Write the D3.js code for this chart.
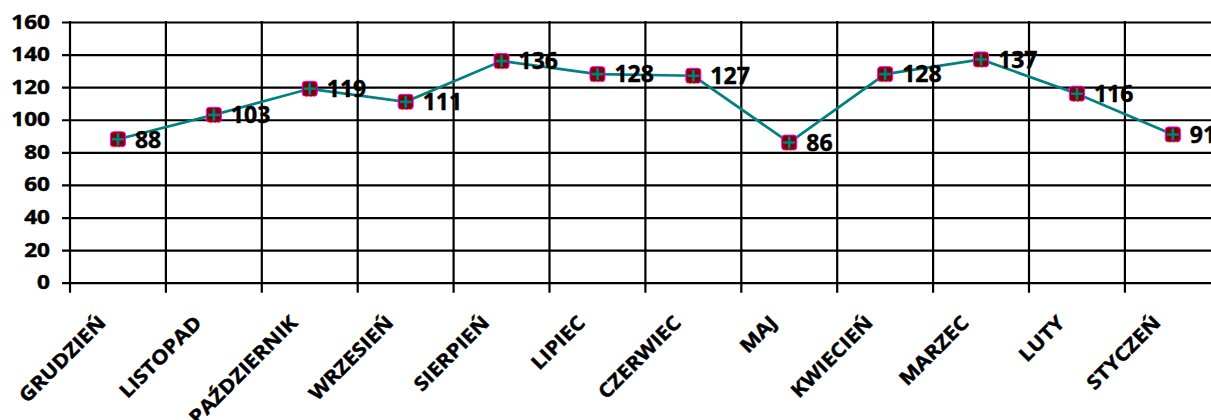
<!DOCTYPE html>
<html>
<head>
<meta charset="utf-8">
<script src="https://cdn.jsdelivr.net/npm/d3@7"></script>
<style>
  body { margin: 0; background: #fff; }
  svg { display: block; }
  text { font-family: "Open Sans", sans-serif; font-weight: bold; fill: #000; stroke: #000; stroke-width: 0.45px; }
</style>
</head>
<body>
<div id="chart"></div>
<script>
var months = ["GRUDZIEŃ", "LISTOPAD", "PAŹDZIERNIK", "WRZESIEŃ", "SIERPIEŃ", "LIPIEC",
              "CZERWIEC", "MAJ", "KWIECIEŃ", "MARZEC", "LUTY", "STYCZEŃ"];
var values = [88, 103, 119, 111, 136, 128, 127, 86, 128, 137, 116, 91];
var yTicks = [0, 20, 40, 60, 80, 100, 120, 140, 160];

var chartWidth = 1211;
var chartHeight = 420;
var plotLeft = 70, plotTop = 22, plotBottom = 282.7;
var band = 95.9;

var svg = d3.select("#chart")
    .append("svg")
    .attr("width", chartWidth)
    .attr("height", chartHeight);

svg.append("rect").attr("width", chartWidth).attr("height", chartHeight).attr("fill", "#fff");

var x = d3.scaleBand()
    .domain(months)
    .range([plotLeft, plotLeft + band * months.length])
    .paddingInner(0)
    .paddingOuter(0);

var y = d3.scaleLinear()
    .domain([0, 160])
    .range([plotBottom, plotTop]);

// horizontal gridlines + y labels
var yAxis = svg.append("g")
    .attr("transform", "translate(62,0)")
    .call(d3.axisLeft(y)
        .tickValues(yTicks)
        .tickSize(-(chartWidth - 62))
        .tickPadding(10)
        .tickFormat(d3.format("d")));
yAxis.select(".domain").remove();
yAxis.selectAll(".tick line")
    .attr("stroke", "#000")
    .attr("stroke-width", 2.2);
yAxis.selectAll(".tick text")
    .attr("font-size", "18.8px")
    .attr("font-family", "'Open Sans', sans-serif")
    .attr("font-weight", "bold")
    .attr("fill", "#000")
    .attr("transform", "scale(1.2,1)");

// vertical gridlines at category boundaries (the first one is the axis)
var bounds = months.map(function(d) { return x(d); });
bounds.push(x.range()[1]);
svg.selectAll(".vgrid")
    .data(bounds)
    .enter()
    .append("line")
    .attr("class", "vgrid")
    .attr("x1", function(d) { return d; })
    .attr("x2", function(d) { return d; })
    .attr("y1", plotTop - 1)
    .attr("y2", plotBottom + 10)
    .attr("stroke", "#000")
    .attr("stroke-width", 2.2);

// category labels
svg.selectAll(".cat")
    .data(months)
    .enter()
    .append("text")
    .attr("class", "cat")
    .attr("text-anchor", "end")
    .attr("font-size", "19.5px")
    .attr("transform", function(d) {
        return "translate(" + (x(d) + band / 2 - 11) + ",324) rotate(-45) scale(1.12,1)";
    })
    .text(function(d) { return d; });

// line
var cx = function(d, i) { return x(months[i]) + band / 2; };
var line = d3.line()
    .x(function(d, i) { return cx(d, i); })
    .y(function(d) { return y(d); });

svg.append("path")
    .datum(values)
    .attr("d", line)
    .attr("fill", "none")
    .attr("stroke", "#008080")
    .attr("stroke-width", 2.7);

// markers
var marks = svg.selectAll(".mark")
    .data(values)
    .enter()
    .append("g")
    .attr("class", "mark")
    .attr("transform", function(d, i) { return "translate(" + cx(d, i) + "," + y(d) + ")"; });

marks.append("rect")
    .attr("x", -7.5).attr("y", -7.5)
    .attr("width", 15).attr("height", 15)
    .attr("rx", 3)
    .attr("fill", "#800000")
    .attr("stroke", "#ff00ff")
    .attr("stroke-width", 1);
marks.append("line")
    .attr("x1", -6).attr("x2", 6)
    .attr("y1", 8).attr("y2", 8)
    .attr("stroke", "#ffff00")
    .attr("stroke-width", 1)
    .attr("stroke-dasharray", "2,2");
marks.append("path")
    .attr("d", "M-6,0H6M0,-6V6")
    .attr("stroke", "#008080")
    .attr("stroke-width", 2.6);

// value labels
svg.selectAll(".val")
    .data(values)
    .enter()
    .append("text")
    .attr("class", "val")
    .attr("x", function(d, i) { return cx(d, i) + 17; })
    .attr("y", function(d) { return y(d); })
    .attr("dy", "0.36em")
    .attr("font-size", "23px")
    .text(function(d) { return d; });
</script>
</body>
</html>
